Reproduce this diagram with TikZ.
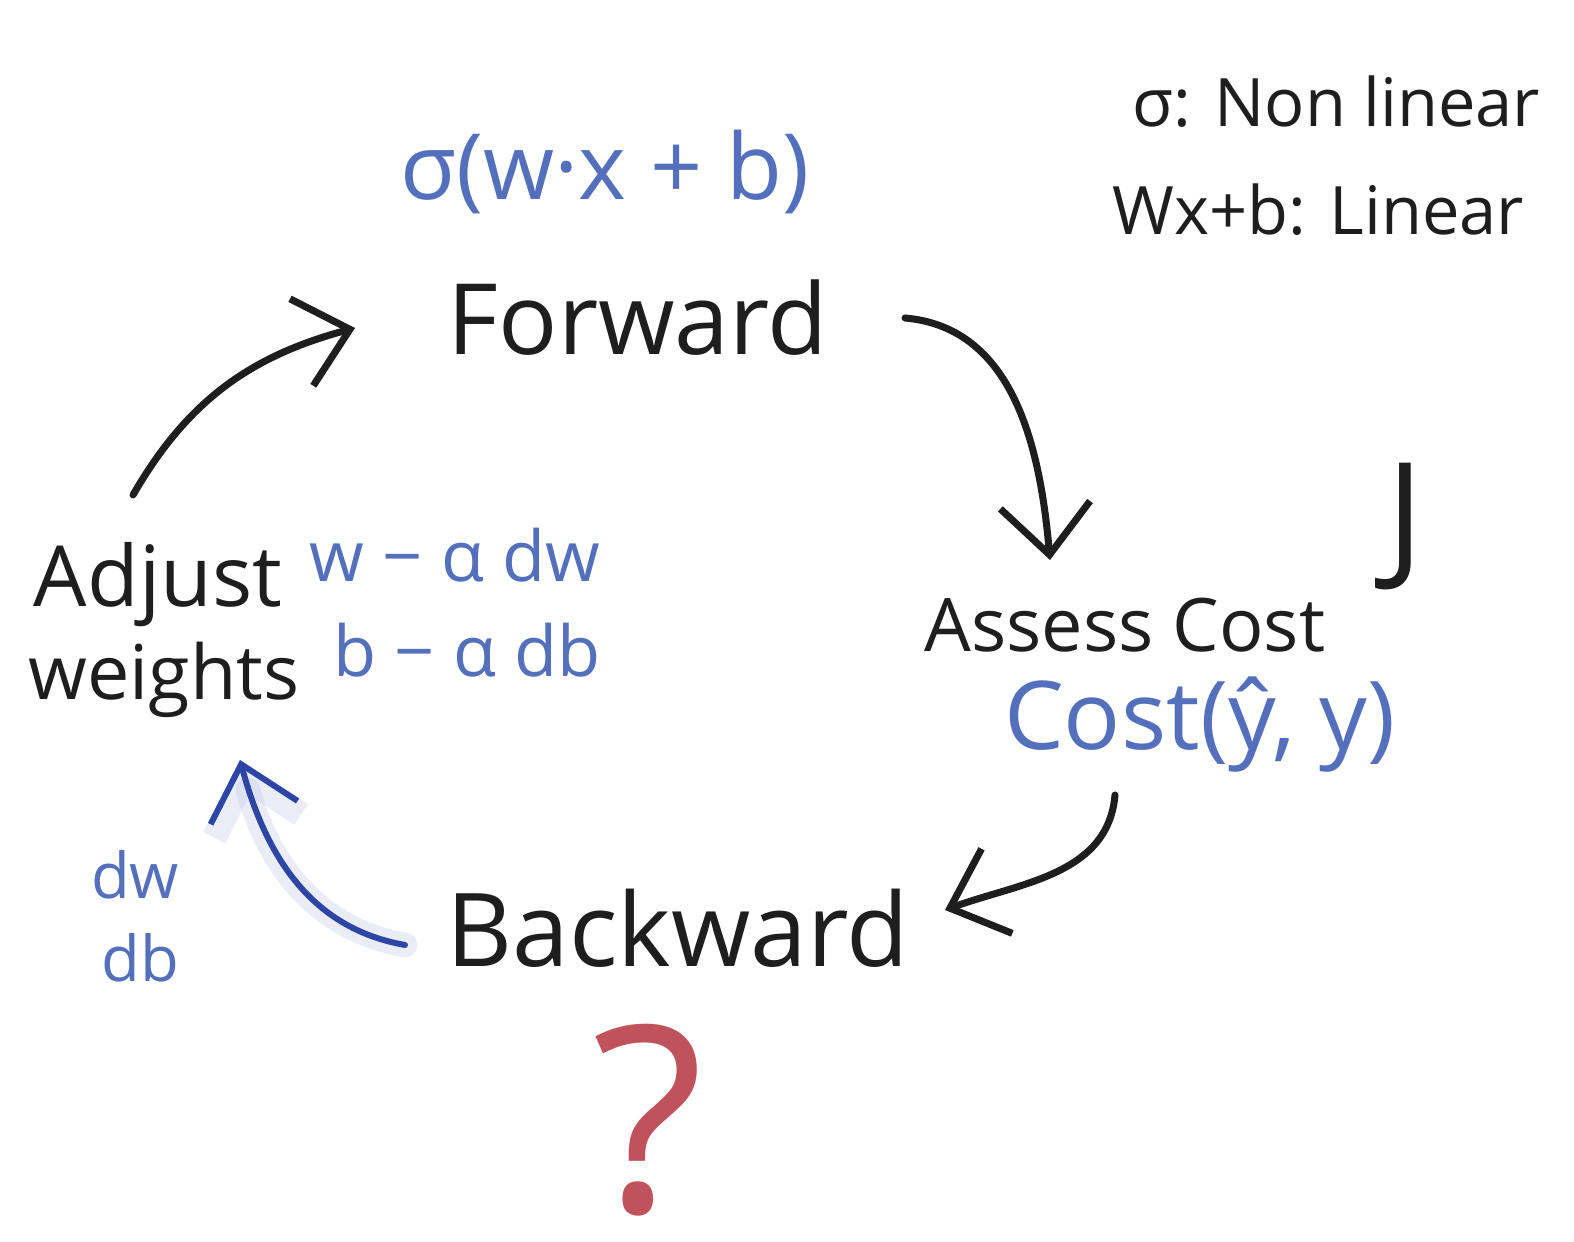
\documentclass[tikz,border=0pt]{standalone}
\usepackage{fontspec}
\setmainfont{Open Sans}
\usetikzlibrary{arrows.meta,positioning}
\definecolor{ink}{RGB}{30,30,30}
\definecolor{inkblue}{RGB}{84,112,188}
\definecolor{penblue}{RGB}{45,70,165}
\definecolor{inkred}{RGB}{192,82,92}
\newcommand{\penfont}[1]{\fontsize{#1}{#1}\selectfont}
\tikzset{
    cycle/.style={>={Straight Barb[length=5mm,width=9mm]},line cap=round,line join=round},
    stage/.style={text=ink, inner sep=2pt},
    note/.style={text=inkblue, inner sep=2pt},
    flow/.style={->, draw=ink, line width=2pt},
    grad/.style={->, draw=penblue, line width=1.7pt,
                 preaction={draw=inkblue!40, line width=7pt, opacity=0.3}},
    }

\begin{document}
\begin{tikzpicture}[cycle]
            \path[fill=white,use as bounding box] (0,0) rectangle (15.74,12.42);

            \node[stage, font=\penfont{28}] (fwd) at (6.38,9.24) {Forward};
            \node[note, font=\penfont{26}] (act) at (6.05,10.70) {σ(w·x + b)};
            \node[stage, font=\penfont{19}, anchor=west] (nonlin) at (11.25,11.40) {σ: Non linear};
            \node[stage, font=\penfont{19}, anchor=west] (lin) at (11.05,10.32) {Wx+b: Linear};

            \node[stage, font=\penfont{40}] (J) at (14.05,7.15) {J};
            \node[stage, font=\penfont{21}] (cost) at (11.25,6.17) {Assess Cost};
            \node[note, font=\penfont{27}] (costfn) at (12.00,5.17) {Cost(ŷ, y)};

            \node[stage, font=\penfont{29}] (back) at (6.78,3.14) {Backward};
            \node[font=\penfont{74}, text=inkred] (why) at (6.48,1.22) {?};
            \node[note, font=\penfont{18}] (dw) at (1.35,3.67) {dw};
            \node[note, font=\penfont{18}] (db) at (1.40,2.84) {db};

            \node[stage, font=\penfont{24}] (adjust) at (1.58,6.57) {Adjust};
            \node[stage, font=\penfont{21.5}] (weights) at (1.64,5.62) {weights};
            \node[note, font=\penfont{20}] (wupd) at (4.55,6.87) {w − α dw};
            \node[note, font=\penfont{20}] (bupd) at (4.67,5.92) {b − α db};

            \path ([shift={(2.67,0)}]fwd.center) edge[flow, out=-5, in=95] ([shift={(-0.75,0.65)}]cost.center);
            \path ([shift={(-0.85,-0.70)}]costfn.center) edge[flow, out=-95, in=20] ([shift={(2.67,0.18)}]back.center);
            \path ([shift={(-2.73,-0.17)}]back.center) edge[grad, out=170, in=-75] ([shift={(0.76,-0.80)}]weights.center);
            \path ([shift={(-0.25,0.90)}]adjust.center) edge[flow, out=60, in=195] ([shift={(-2.83,-0.10)}]fwd.center);
        \end{tikzpicture}
\end{document}
